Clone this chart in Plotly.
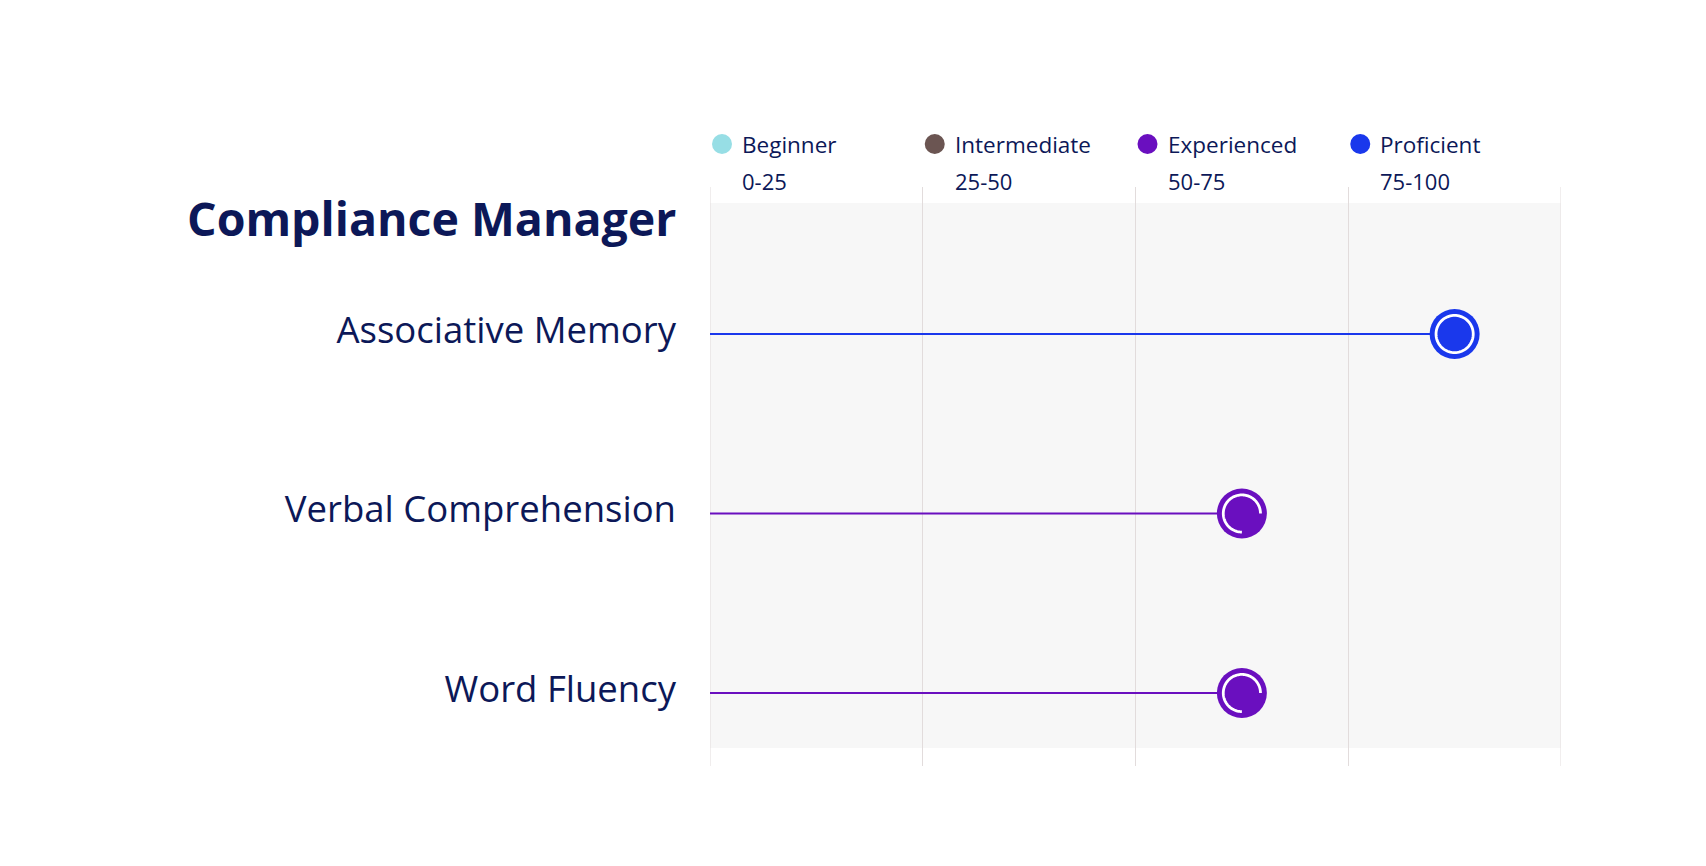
import math
import plotly.graph_objects as go

# ---------------- data ----------------
title_text = "Compliance Manager"
categories = ["Associative Memory", "Verbal Comprehension", "Word Fluency"]
scores = [87.5, 62.5, 62.5]
ring_fraction = [1.0, 0.75, 0.75]

levels = ["Beginner", "Intermediate", "Experienced", "Proficient"]
level_ranges = ["0-25", "25-50", "50-75", "75-100"]
level_starts = [0, 25, 50, 75]
level_colors = ["#97dee5", "#6b5552", "#6a0fbf", "#1a38ec"]
grid_vals = [0, 25, 50, 75, 100]

# ---------------- layout constants (pixels) ----------------
W, H = 1706, 866
ML, MR, MT, MB = 710, 145, 187, 100
PH = H - MT - MB
TEXT = "#0c1858"
GRID = "#e2dcdc"
FONT = "Open Sans, Noto Sans, sans-serif"


def py(px):
    """pixel row -> paper y"""
    return (H - MB - px) / PH


def level_of(v):
    return min(int(v // 25), len(levels) - 1)


fig = go.Figure()

shapes = []
# grey band behind the rows
shapes.append(dict(type="rect", xref="x", yref="paper", x0=0, x1=100,
                   y0=py(748), y1=py(203), fillcolor="#f7f7f7",
                   line=dict(width=0), layer="below"))
# edge grid lines (axis grid skips the range ends)
for gv in (grid_vals[0], grid_vals[-1]):
    shapes.append(dict(type="line", xref="x", yref="paper", x0=gv, x1=gv,
                       y0=0, y1=1, line=dict(color=GRID, width=1), layer="below"))

for i, (cat, v, frac) in enumerate(zip(categories, scores, ring_fraction)):
    col = level_colors[level_of(v)]
    fig.add_trace(go.Scatter(x=[0, v], y=[cat, cat], mode="lines",
                             line=dict(color=col, width=2),
                             hoverinfo="skip", showlegend=False))
    fig.add_trace(go.Scatter(x=[v], y=[cat], mode="markers",
                             marker=dict(size=50, color=col, line=dict(width=0)),
                             showlegend=False, name=cat))
    # white progress ring inside the marker
    r = 18.6
    n = 80
    start = 270.0
    sweep = 360.0 * frac
    pts = []
    for k in range(n + 1):
        a = math.radians(start - sweep * k / n)
        pts.append((r * math.cos(a), r * math.sin(a)))
    path = "M %.2f %.2f " % pts[0] + " ".join("L %.2f %.2f" % p for p in pts[1:])
    if frac >= 1.0:
        path += " Z"
    shapes.append(dict(type="path", xref="x", yref="y",
                       xsizemode="pixel", ysizemode="pixel",
                       xanchor=v, yanchor=i, path=path,
                       line=dict(color="white", width=2.8),
                       fillcolor="rgba(0,0,0,0)", layer="above"))

annotations = []
for name, rng, start, col in zip(levels, level_ranges, level_starts, level_colors):
    shapes.append(dict(type="circle", xref="x", yref="paper",
                       xsizemode="pixel", ysizemode="pixel",
                       xanchor=start, yanchor=py(144),
                       x0=2, x1=22, y0=-10, y1=10,
                       fillcolor=col, line=dict(width=0)))
    annotations.append(dict(text=name, x=start, xref="x", xanchor="left", xshift=30,
                            y=py(144), yref="paper", yanchor="middle",
                            showarrow=False, font=dict(size=22.5, color=TEXT, family=FONT)))
    annotations.append(dict(text=rng, x=start, xref="x", xanchor="left", xshift=30,
                            y=py(181), yref="paper", yanchor="middle",
                            showarrow=False, font=dict(size=22, color=TEXT, family=FONT)))

# chart title
annotations.append(dict(text="<b>%s</b>" % title_text, x=0, xref="paper", xanchor="right",
                        xshift=-32, y=py(218), yref="paper", yanchor="middle",
                        showarrow=False, font=dict(size=46.5, color=TEXT, family=FONT)))

fig.update_layout(
    width=W, height=H,
    margin=dict(l=ML, r=MR, t=MT, b=MB, pad=0),
    paper_bgcolor="white", plot_bgcolor="white",
    font=dict(family=FONT, color=TEXT),
    xaxis=dict(range=[0, 100], tickvals=grid_vals, showticklabels=False,
               showgrid=True, gridcolor=GRID, gridwidth=1,
               zeroline=False, showline=False, ticks="", fixedrange=True),
    yaxis=dict(type="category", categoryorder="array", categoryarray=categories,
               range=[2.4067, -0.819], showgrid=False, zeroline=False,
               showline=False, ticks="", ticklabelstandoff=33, ticklabelshift=4,
               tickfont=dict(size=36.5, color=TEXT, family=FONT), fixedrange=True),
    shapes=shapes,
    annotations=annotations,
    showlegend=False,
    hovermode=False,
)

fig.write_html("out.html", config={"displayModeBar": False},
               post_script="document.body.style.margin='0';document.body.style.overflow='hidden';")
